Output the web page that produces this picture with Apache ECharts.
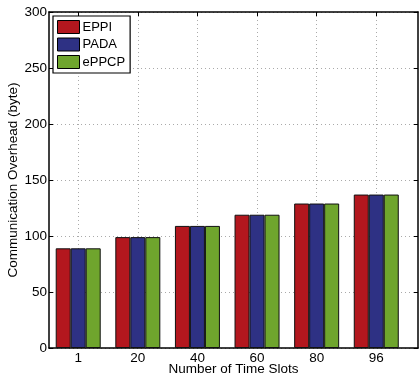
<!DOCTYPE html>
<html><head><meta charset="utf-8">
<script src="https://cdn.jsdelivr.net/npm/echarts@6/dist/echarts.min.js"></script>
<style>html,body{margin:0;padding:0;background:#fff}#c{width:419px;height:380px}</style>
</head><body><div id="c"></div>
<script>
const categories = ['1', '20', '40', '60', '80', '96'];
const seriesNames = ['EPPI', 'PADA', 'ePPCP'];
const eppi = [89, 99, 109, 119, 129, 137];
const pada = [89, 99, 109, 119, 129, 137];
const eppcp = [89, 99, 109, 119, 129, 137];
const yTicks = [0, 50, 100, 150, 200, 250, 300];
const colors = ['#B3171E', '#2E3184', '#6FA52D'];

const positions = categories.map((c, i) => i + 1);
const font = 'Liberation Sans, Arial, sans-serif';
const chart = echarts.init(document.getElementById('c'));
function mk(vals) { return vals.map((v, i) => [positions[i], v]); }
const dotted = { show: true, lineStyle: { color: '#aaa', type: [1, 3], width: 1 } };
chart.setOption({
  animation: false,
  color: colors,
  grid: { left: 49, right: 1, top: 12, bottom: 32, containLabel: false, outerBoundsMode: 'none' },
  legend: {
    orient: 'vertical', left: 53, top: 16,
    data: seriesNames,
    itemWidth: 22, itemHeight: 13, itemGap: 3.5,
    padding: [4, 5, 4, 4],
    borderColor: '#000', borderWidth: 1.2,
    backgroundColor: '#fff',
    icon: 'rect',
    textStyle: { fontFamily: font, fontSize: 13, color: '#000', padding: [0, 0, 0, -2] },
    itemStyle: { borderColor: '#000', borderWidth: 1 }
  },
  xAxis: [{
    type: 'value', min: 0.51, max: 6.7,
    name: 'Number of Time Slots', nameLocation: 'middle', nameGap: 14, nameMoveOverlap: false,
    nameTextStyle: { fontFamily: font, fontSize: 13.5, color: '#000' },
    axisLine: { show: true, onZero: false, lineStyle: { color: '#000', width: 1.5 } },
    axisTick: { show: true, inside: true, length: 4, customValues: positions, lineStyle: { color: '#000' } },
    axisLabel: { customValues: positions, formatter: v => categories[Math.round(v) - 1] || '', fontFamily: font, fontSize: 13.5, color: '#000', margin: 3 },
    splitLine: dotted
  }, {
    type: 'value', min: 0.51, max: 6.7, position: 'top',
    axisLine: { show: true, onZero: false, lineStyle: { color: '#000', width: 1.5 } },
    axisTick: { show: true, inside: true, length: 4, customValues: positions, lineStyle: { color: '#000' } },
    axisLabel: { show: false }, splitLine: { show: false }
  }],
  yAxis: [{
    type: 'value', min: 0, max: 300, interval: 50,
    name: 'Communication Overhead (byte)', nameLocation: 'middle', nameGap: 29, nameMoveOverlap: false,
    nameTextStyle: { fontFamily: font, fontSize: 13.5, color: '#000' },
    axisLine: { show: true, lineStyle: { color: '#000', width: 1.5 } },
    axisTick: { show: true, inside: true, length: 4, lineStyle: { color: '#000' } },
    axisLabel: { fontFamily: font, fontSize: 13.5, color: '#000', margin: 2,
      formatter: v => yTicks.includes(v) ? String(v) : '' },
    splitLine: dotted
  }, {
    type: 'value', min: 0, max: 300, interval: 50, position: 'right',
    axisLine: { show: true, lineStyle: { color: '#000', width: 1.5 } },
    axisTick: { show: true, inside: true, length: 4, lineStyle: { color: '#000' } },
    axisLabel: { show: false }, splitLine: { show: false }
  }],
  series: [
    { name: seriesNames[0], type: 'bar', data: mk(eppi), barWidth: 15, barGap: '0%',
      itemStyle: { borderColor: '#111', borderWidth: 1 } },
    { name: seriesNames[1], type: 'bar', data: mk(pada), barWidth: 15, barGap: '0%',
      itemStyle: { borderColor: '#111', borderWidth: 1 } },
    { name: seriesNames[2], type: 'bar', data: mk(eppcp), barWidth: 15, barGap: '0%',
      itemStyle: { borderColor: '#111', borderWidth: 1 } }
  ]
});
</script></body></html>
